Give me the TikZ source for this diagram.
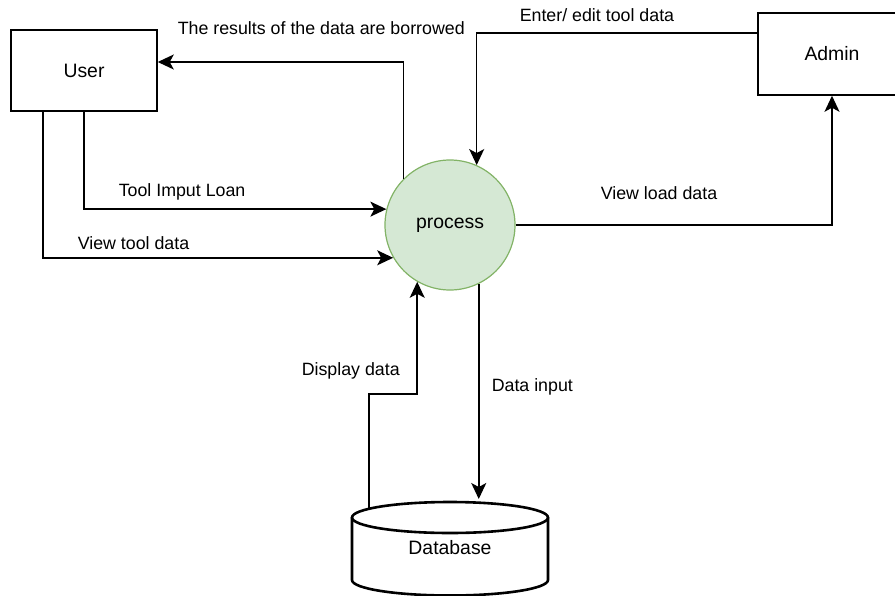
\documentclass[tikz,border=0pt]{standalone}
\usepackage{fontspec}
\setmainfont{Liberation Sans}
\usetikzlibrary{arrows.meta}
\definecolor{procfill}{HTML}{D5E8D4}
\definecolor{procline}{HTML}{82B366}
\begin{document}
\begin{tikzpicture}[x=1pt,y=-1pt,line width=1.5pt,font=\fontsize{17.8}{21}\selectfont,
		flow/.style={-{Stealth[length=16pt,width=15pt,inset=4pt]}},
		big/.style={font=\fontsize{19.4}{23}\selectfont},
		entity/.style={draw,big,minimum width=146pt,minimum height=81pt},
		lbl/.style={anchor=west,inner sep=0pt}]
	\useasboundingbox (0,0) rectangle (895,595);
	\node [entity] (user) at (84,70.5) {User};
	\node [entity,minimum width=148pt,minimum height=82pt] (admin) at (832,54) {Admin};
	\node [circle,big,draw=procline,fill=procfill,line width=1.2pt,minimum size=130pt] (proc) at (450,225) {process};
	% database drum
	\draw [line width=2.6pt] (352,517.5) -- (352,580) arc [start angle=180,end angle=360,x radius=98pt,y radius=15.5pt] -- (548,517.5);
	\draw [line width=2.6pt] (450,517.5) ellipse [x radius=98pt,y radius=15.5pt];
	\node [big] (db) at (450,548) {Database};
	\coordinate (dbl) at (369,509);
	\coordinate (dbtop) at (478,499);
	\draw [flow] (proc.135) |- ([yshift=8.5pt]user.east);
	\draw [flow] (user.south) |- (proc.166);
	\draw [flow] ([xshift=-41pt]user.south) |- (proc.210);
	\draw [flow] ([yshift=21pt]admin.west) -| (proc.66);
	\draw [flow] (proc.east) -| (admin.south);
	\draw [flow] (dbl) -- ++(0,-115) -| (proc.240);
	\draw [flow] (proc.296) -- (proc.296 |- dbtop);
	\node [lbl] (tresult) at (177,28) {The results of the data are borrowed};
	\node [lbl] (tloan) at (118,192) {Tool Imput Loan};
	\node [lbl] (tview) at (77,243) {View tool data};
	\node [lbl] (tedit) at (519,15) {Enter/ edit tool data};
	\node [lbl] (tload) at (600,193) {View load data};
	\node [lbl] (tdisplay) at (301,371) {Display data};
	\node [lbl] (tinput) at (491,387) {Data input};
\end{tikzpicture}
\end{document}
